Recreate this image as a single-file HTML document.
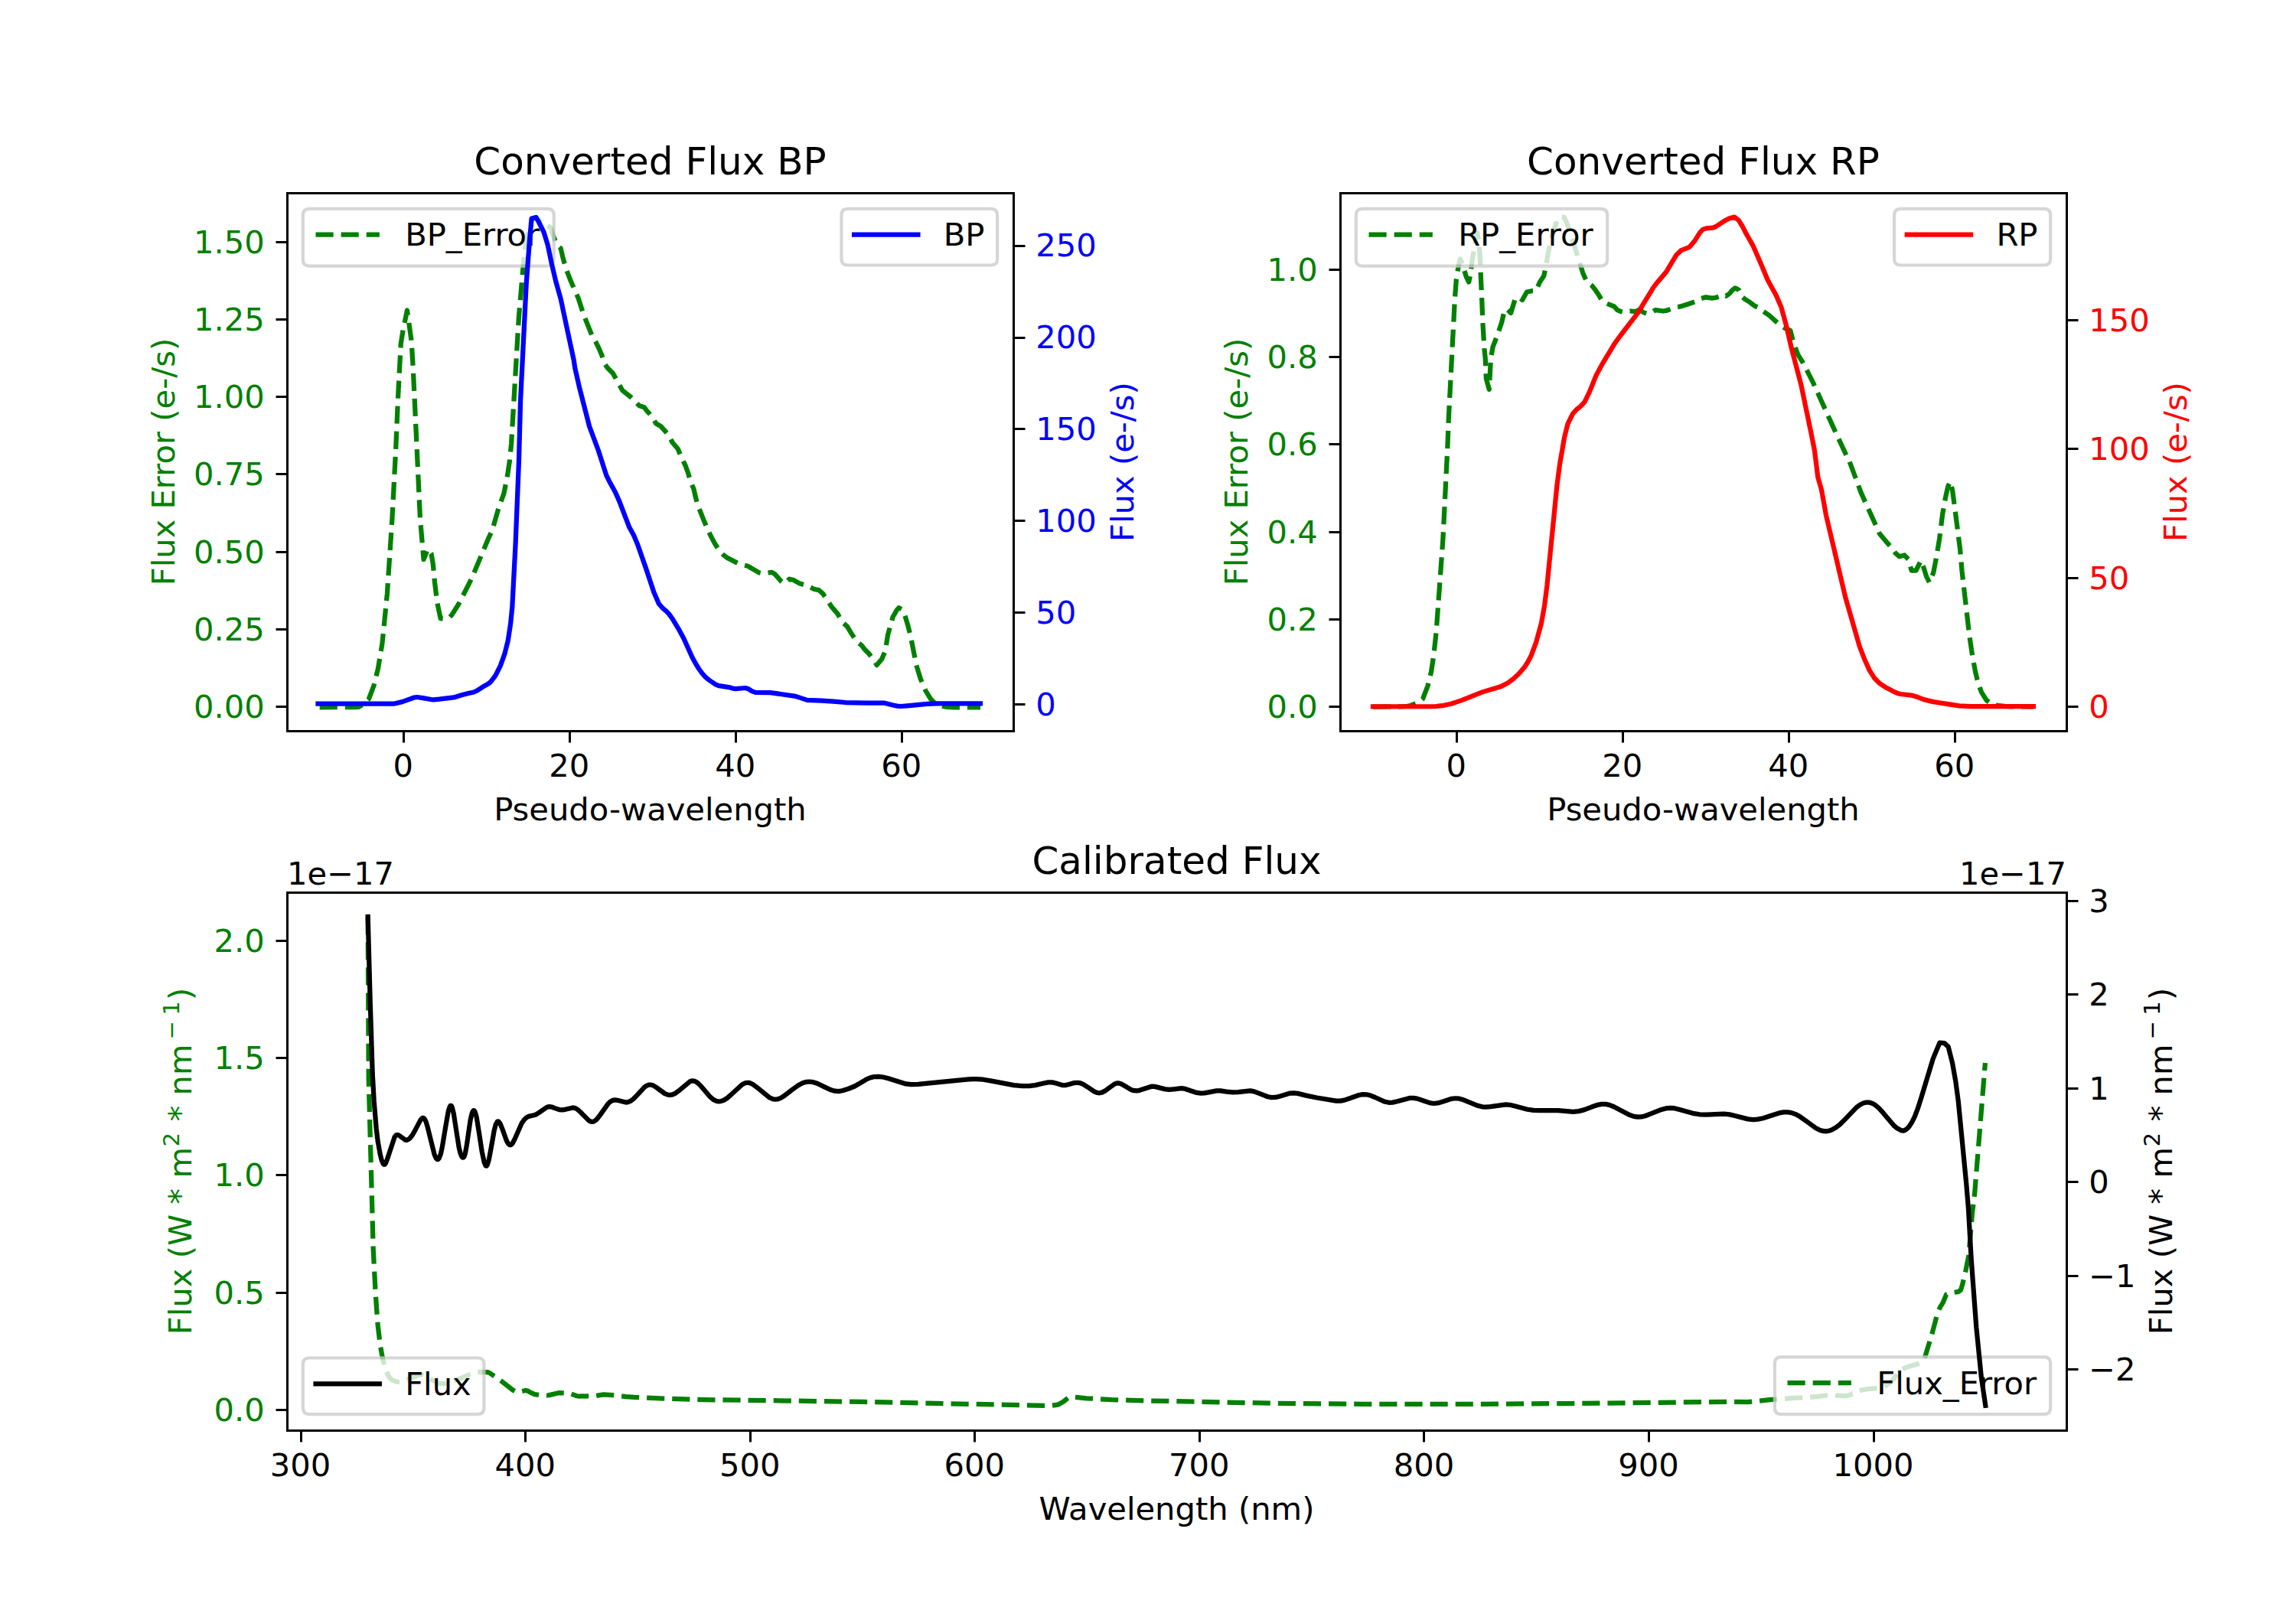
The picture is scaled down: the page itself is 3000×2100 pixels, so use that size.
<!DOCTYPE html>
<html><head><meta charset="utf-8"><title>Gaia XP spectra</title>
<style>html,body{margin:0;padding:0;background:#fff}svg{display:block}text{font-family:"DejaVu Sans","Liberation Sans",sans-serif}</style>
</head><body>
<svg width="3000" height="2100" viewBox="0 0 720 504">
 
 <defs>
  <style type="text/css">*{stroke-linejoin: round; stroke-linecap: butt}</style>
 </defs>
 <g id="figure_1">
  <g id="patch_1">
   <path d="M 0 504 
L 720 504 
L 720 0 
L 0 0 
z
" style="fill: #ffffff"/>
  </g>
  <g id="axes_1">
   <g id="patch_2">
    <path d="M 90 229.210435 
L 317.755102 229.210435 
L 317.755102 60.48 
L 90 60.48 
z
" style="fill: #ffffff"/>
   </g>
   <g id="matplotlib.axis_1">
    <g id="xtick_1">
     <g id="line2d_1">
      <defs>
       <path id="m1504cfccaf" d="M 0 0 
L 0 3.6 
" style="stroke: #000000; stroke-width: 0.72"/>
      </defs>
      <g>
       <use href="#m1504cfccaf" x="126.600000" y="229.320000" style="stroke: #000000; stroke-width: 0.72"/>
      </g>
     </g>
     <g id="text_1">
      <text style="font-size: 10px; font-family: 'DejaVu Sans', 'Liberation Sans', sans-serif; text-anchor: middle" x="126.396541" y="243.508872" transform="rotate(-0 126.396541 243.508872)">0</text>
     </g>
    </g>
    <g id="xtick_2">
     <g id="line2d_2">
      <g>
       <use href="#m1504cfccaf" x="178.680000" y="229.320000" style="stroke: #000000; stroke-width: 0.72"/>
      </g>
     </g>
     <g id="text_2">
      <text style="font-size: 10px; font-family: 'DejaVu Sans', 'Liberation Sans', sans-serif; text-anchor: middle" x="178.484615" y="243.508872" transform="rotate(-0 178.484615 243.508872)">20</text>
     </g>
    </g>
    <g id="xtick_3">
     <g id="line2d_3">
      <g>
       <use href="#m1504cfccaf" x="230.760000" y="229.320000" style="stroke: #000000; stroke-width: 0.72"/>
      </g>
     </g>
     <g id="text_3">
      <text style="font-size: 10px; font-family: 'DejaVu Sans', 'Liberation Sans', sans-serif; text-anchor: middle" x="230.572689" y="243.508872" transform="rotate(-0 230.572689 243.508872)">40</text>
     </g>
    </g>
    <g id="xtick_4">
     <g id="line2d_4">
      <g>
       <use href="#m1504cfccaf" x="282.840000" y="229.320000" style="stroke: #000000; stroke-width: 0.72"/>
      </g>
     </g>
     <g id="text_4">
      <text style="font-size: 10px; font-family: 'DejaVu Sans', 'Liberation Sans', sans-serif; text-anchor: middle" x="282.660762" y="243.508872" transform="rotate(-0 282.660762 243.508872)">60</text>
     </g>
    </g>
    <g id="text_5">
     <text style="font-size: 10px; font-family: 'DejaVu Sans', 'Liberation Sans', sans-serif; text-anchor: middle" x="203.877551" y="257.186997" transform="rotate(-0 203.877551 257.186997)">Pseudo-wavelength</text>
    </g>
   </g>
   <g id="matplotlib.axis_2">
    <g id="ytick_1">
     <g id="line2d_5">
      <defs>
       <path id="m5d545ce8f8" d="M 0 0 
L -3.6 0 
" style="stroke: #000000; stroke-width: 0.72"/>
      </defs>
      <g>
       <use href="#m5d545ce8f8" x="90.120000" y="221.640000" style="stroke: #000000; stroke-width: 0.72"/>
      </g>
     </g>
     <g id="text_6">
      <text style="font-size: 10px; font-family: 'DejaVu Sans', 'Liberation Sans', sans-serif; text-anchor: end; fill: #008000" x="83" y="225.099216" transform="rotate(-0 83 225.099216)">0.00</text>
     </g>
    </g>
    <g id="ytick_2">
     <g id="line2d_6">
      <g>
       <use href="#m5d545ce8f8" x="90.120000" y="197.400000" style="stroke: #000000; stroke-width: 0.72"/>
      </g>
     </g>
     <g id="text_7">
      <text style="font-size: 10px; font-family: 'DejaVu Sans', 'Liberation Sans', sans-serif; text-anchor: end; fill: #008000" x="83" y="200.811095" transform="rotate(-0 83 200.811095)">0.25</text>
     </g>
    </g>
    <g id="ytick_3">
     <g id="line2d_7">
      <g>
       <use href="#m5d545ce8f8" x="90.120000" y="173.160000" style="stroke: #000000; stroke-width: 0.72"/>
      </g>
     </g>
     <g id="text_8">
      <text style="font-size: 10px; font-family: 'DejaVu Sans', 'Liberation Sans', sans-serif; text-anchor: end; fill: #008000" x="83" y="176.522975" transform="rotate(-0 83 176.522975)">0.50</text>
     </g>
    </g>
    <g id="ytick_4">
     <g id="line2d_8">
      <g>
       <use href="#m5d545ce8f8" x="90.120000" y="148.680000" style="stroke: #000000; stroke-width: 0.72"/>
      </g>
     </g>
     <g id="text_9">
      <text style="font-size: 10px; font-family: 'DejaVu Sans', 'Liberation Sans', sans-serif; text-anchor: end; fill: #008000" x="83" y="152.234855" transform="rotate(-0 83 152.234855)">0.75</text>
     </g>
    </g>
    <g id="ytick_5">
     <g id="line2d_9">
      <g>
       <use href="#m5d545ce8f8" x="90.120000" y="124.440000" style="stroke: #000000; stroke-width: 0.72"/>
      </g>
     </g>
     <g id="text_10">
      <text style="font-size: 10px; font-family: 'DejaVu Sans', 'Liberation Sans', sans-serif; text-anchor: end; fill: #008000" x="83" y="127.946735" transform="rotate(-0 83 127.946735)">1.00</text>
     </g>
    </g>
    <g id="ytick_6">
     <g id="line2d_10">
      <g>
       <use href="#m5d545ce8f8" x="90.120000" y="100.200000" style="stroke: #000000; stroke-width: 0.72"/>
      </g>
     </g>
     <g id="text_11">
      <text style="font-size: 10px; font-family: 'DejaVu Sans', 'Liberation Sans', sans-serif; text-anchor: end; fill: #008000" x="83" y="103.658615" transform="rotate(-0 83 103.658615)">1.25</text>
     </g>
    </g>
    <g id="ytick_7">
     <g id="line2d_11">
      <g>
       <use href="#m5d545ce8f8" x="90.120000" y="75.960000" style="stroke: #000000; stroke-width: 0.72"/>
      </g>
     </g>
     <g id="text_12">
      <text style="font-size: 10px; font-family: 'DejaVu Sans', 'Liberation Sans', sans-serif; text-anchor: end; fill: #008000" x="83" y="79.370495" transform="rotate(-0 83 79.370495)">1.50</text>
     </g>
    </g>
    <g id="text_13">
     <text style="font-size: 10px; font-family: 'DejaVu Sans', 'Liberation Sans', sans-serif; text-anchor: middle; fill: #008000" x="54.654687" y="144.845217" transform="rotate(-90 54.654687 144.845217)">Flux Error (e-/s)</text>
    </g>
   </g>
   <g id="line2d_12">
    <path d="M 100.2477 221.832798 
L 111.467371 221.78178 
L 112.53534 221.712798 
L 113.999297 220.800793 
L 115.679248 219.168785 
L 117.239202 214.992764 
L 118.535164 209.760739 
L 119.855125 201.9127 
L 121.415079 186.240622 
L 122.975034 162.720506 
L 124.127 140.712397 
L 124.82298 124.488317 
L 125.710954 107.760234 
L 126.382934 103.584213 
L 127.678896 97.320182 
L 128.998857 106.728229 
L 129.526842 115.08027 
L 131.758776 162.720506 
L 132.862744 175.440569 
L 134.158706 172.200553 
L 135.262674 173.76056 
L 135.790658 176.880576 
L 136.318643 182.592604 
L 137.08662 188.856635 
L 138.142589 193.96866 
L 139.438551 194.160661 
L 140.758513 193.82466 
L 141.670486 192.885501 
L 143.878421 189.360638 
L 147.034329 183.158176 
L 148.078298 181.008596 
L 153.298145 168.553673 
L 154.342115 166.368524 
L 156.430053 159.072488 
L 157.990008 154.872467 
L 159.045977 149.664441 
L 159.837954 144.432415 
L 160.341939 139.200389 
L 162.69387 99.408193 
L 164.39782 79.680095 
L 165.213796 74.880071 
L 165.981773 71.280053 
L 166.79775 69.240043 
L 168.069712 68.160038 
L 170.661636 70.56005 
L 171.141622 70.224048 
L 172.701577 71.472054 
L 173.493553 73.992067 
L 174.573522 76.65608 
L 175.845484 77.904086 
L 176.469466 80.568099 
L 177.405439 84.024116 
L 178.965393 88.104137 
L 181.317324 93.432163 
L 183.045273 98.760189 
L 185.5652 105.04822 
L 186.813163 107.232231 
L 187.749136 109.104241 
L 188.685108 111.312251 
L 189.64508 114.144266 
L 190.461056 115.320271 
L 192.189006 117.07228 
L 195.164918 122.424306 
L 197.82884 124.570154 
L 200.492762 127.27233 
L 202.052716 127.752333 
L 202.844693 128.832338 
L 204.572643 130.728348 
L 205.67661 132.768358 
L 207.236565 133.704362 
L 208.868517 135.52805 
L 209.732491 136.536376 
L 210.836459 138.720387 
L 212.564408 140.760397 
L 213.668376 143.42441 
L 214.91634 145.944423 
L 215.708316 148.128434 
L 216.476294 150.792447 
L 217.580261 153.45646 
L 218.060247 155.664471 
L 218.828225 158.472485 
L 220.70017 163.152508 
L 221.804138 165.768521 
L 222.980103 168.254852 
L 224.156069 170.472544 
L 225.572027 172.680555 
L 226.747993 173.93316 
L 227.923958 174.864566 
L 231.055867 176.486327 
L 232.31583 177.048577 
L 234.499766 177.528579 
L 237.943665 179.562329 
L 239.203628 179.880591 
L 242.035545 179.472589 
L 242.971517 180.042407 
L 244.92746 182.25765 
L 245.94743 183.024606 
L 247.507385 181.608599 
L 248.755348 181.8486 
L 250.795288 183.024606 
L 253.147219 183.648609 
L 255.187159 184.752615 
L 256.771113 185.064616 
L 258.019076 186.144622 
L 260.850994 190.392643 
L 262.722939 192.576654 
L 263.970902 194.928665 
L 265.698851 196.512673 
L 267.11481 198.864685 
L 268.674764 201.216696 
L 270.258718 202.464702 
L 271.19469 203.712709 
L 272.442654 204.960715 
L 274.002608 207.000725 
L 274.96258 208.584733 
L 276.522534 206.688723 
L 277.626502 204.192711 
L 278.394479 199.176686 
L 279.978433 193.512658 
L 281.226396 191.328647 
L 281.850378 190.608644 
L 282.714353 191.040646 
L 283.722323 192.888655 
L 284.682295 196.032671 
L 285.618268 199.800689 
L 287.346217 208.584733 
L 288.666178 212.880754 
L 290.226133 216.552772 
L 291.810086 219.168785 
L 293.106048 220.485141 
L 294.40201 221.256795 
L 296.849939 221.757768 
L 299.153871 221.832798 
L 307.433628 221.832798 
L 307.433628 221.832798 
" clip-path="url(#ped18cb847b)" style="fill: none; stroke-dasharray: 5.55,2.4; stroke-dashoffset: 0; stroke: #008000; stroke-width: 1.5"/>
   </g>
   <g id="patch_3">
    <path d="M 90.120000 229.320000 
L 90.120000 60.600000 
" style="fill: none; stroke: #000000; stroke-width: 0.72; stroke-linejoin: miter; stroke-linecap: square"/>
   </g>
   <g id="patch_4">
    <path d="M 317.880000 229.320000 
L 317.880000 60.600000 
" style="fill: none; stroke: #000000; stroke-width: 0.72; stroke-linejoin: miter; stroke-linecap: square"/>
   </g>
   <g id="patch_5">
    <path d="M 90.120000 229.320000 
L 317.880000 229.320000 
" style="fill: none; stroke: #000000; stroke-width: 0.72; stroke-linejoin: miter; stroke-linecap: square"/>
   </g>
   <g id="patch_6">
    <path d="M 90.120000 60.600000 
L 317.880000 60.600000 
" style="fill: none; stroke: #000000; stroke-width: 0.72; stroke-linejoin: miter; stroke-linecap: square"/>
   </g>
   <g id="text_14">
    <text style="font-size: 12px; font-family: 'DejaVu Sans', 'Liberation Sans', sans-serif; text-anchor: middle" x="203.877551" y="54.770000" transform="rotate(-0 203.877551 54.770000)">Converted Flux BP</text>
   </g>
   <g id="legend_1">
    <g id="patch_7">
     <path d="M 97.000000 83.43625 
L 171.690938 83.43625 
Q 173.690938 83.43625 173.690938 81.43625 
L 173.690938 67.48 
Q 173.690938 65.48 171.690938 65.48 
L 97.000000 65.48 
Q 95.000000 65.48 95.000000 67.48 
L 95.000000 81.43625 
Q 95.000000 83.43625 97.000000 83.43625 
z
" style="fill: #ffffff; opacity: 0.8; stroke: #cccccc; stroke-linejoin: miter"/>
    </g>
    <g id="line2d_13">
     <path d="M 99 73.578438 
L 109 73.578438 
L 119 73.578438 
" style="fill: none; stroke-dasharray: 5.55,2.4; stroke-dashoffset: 0; stroke: #008000; stroke-width: 1.5"/>
    </g>
    <g id="text_15">
     <text style="font-size: 10px; font-family: 'DejaVu Sans', 'Liberation Sans', sans-serif; text-anchor: start" x="127" y="77.078438" transform="rotate(-0 127 77.078438)">BP_Error</text>
    </g>
   </g>
  </g>
  <g id="axes_2">
   <g id="patch_8">
    <path d="M 420.244898 229.210435 
L 648 229.210435 
L 648 60.48 
L 420.244898 60.48 
z
" style="fill: #ffffff"/>
   </g>
   <g id="matplotlib.axis_3">
    <g id="xtick_5">
     <g id="line2d_14">
      <g>
       <use href="#m1504cfccaf" x="456.840000" y="229.320000" style="stroke: #000000; stroke-width: 0.72"/>
      </g>
     </g>
     <g id="text_16">
      <text style="font-size: 10px; font-family: 'DejaVu Sans', 'Liberation Sans', sans-serif; text-anchor: middle" x="456.641439" y="243.508872" transform="rotate(-0 456.641439 243.508872)">0</text>
     </g>
    </g>
    <g id="xtick_6">
     <g id="line2d_15">
      <g>
       <use href="#m1504cfccaf" x="508.920000" y="229.320000" style="stroke: #000000; stroke-width: 0.72"/>
      </g>
     </g>
     <g id="text_17">
      <text style="font-size: 10px; font-family: 'DejaVu Sans', 'Liberation Sans', sans-serif; text-anchor: middle" x="508.729513" y="243.508872" transform="rotate(-0 508.729513 243.508872)">20</text>
     </g>
    </g>
    <g id="xtick_7">
     <g id="line2d_16">
      <g>
       <use href="#m1504cfccaf" x="561.000000" y="229.320000" style="stroke: #000000; stroke-width: 0.72"/>
      </g>
     </g>
     <g id="text_18">
      <text style="font-size: 10px; font-family: 'DejaVu Sans', 'Liberation Sans', sans-serif; text-anchor: middle" x="560.817587" y="243.508872" transform="rotate(-0 560.817587 243.508872)">40</text>
     </g>
    </g>
    <g id="xtick_8">
     <g id="line2d_17">
      <g>
       <use href="#m1504cfccaf" x="613.080000" y="229.320000" style="stroke: #000000; stroke-width: 0.72"/>
      </g>
     </g>
     <g id="text_19">
      <text style="font-size: 10px; font-family: 'DejaVu Sans', 'Liberation Sans', sans-serif; text-anchor: middle" x="612.90566" y="243.508872" transform="rotate(-0 612.90566 243.508872)">60</text>
     </g>
    </g>
    <g id="text_20">
     <text style="font-size: 10px; font-family: 'DejaVu Sans', 'Liberation Sans', sans-serif; text-anchor: middle" x="534.122449" y="257.186997" transform="rotate(-0 534.122449 257.186997)">Pseudo-wavelength</text>
    </g>
   </g>
   <g id="matplotlib.axis_4">
    <g id="ytick_8">
     <g id="line2d_18">
      <g>
       <use href="#m5d545ce8f8" x="420.360000" y="221.640000" style="stroke: #000000; stroke-width: 0.72"/>
      </g>
     </g>
     <g id="text_21">
      <text style="font-size: 10px; font-family: 'DejaVu Sans', 'Liberation Sans', sans-serif; text-anchor: end; fill: #008000" x="413.244898" y="225.099216" transform="rotate(-0 413.244898 225.099216)">0.0</text>
     </g>
    </g>
    <g id="ytick_9">
     <g id="line2d_19">
      <g>
       <use href="#m5d545ce8f8" x="420.360000" y="194.280000" style="stroke: #000000; stroke-width: 0.72"/>
      </g>
     </g>
     <g id="text_22">
      <text style="font-size: 10px; font-family: 'DejaVu Sans', 'Liberation Sans', sans-serif; text-anchor: end; fill: #008000" x="413.244898" y="197.691080" transform="rotate(-0 413.244898 197.691080)">0.2</text>
     </g>
    </g>
    <g id="ytick_10">
     <g id="line2d_20">
      <g>
       <use href="#m5d545ce8f8" x="420.360000" y="166.920000" style="stroke: #000000; stroke-width: 0.72"/>
      </g>
     </g>
     <g id="text_23">
      <text style="font-size: 10px; font-family: 'DejaVu Sans', 'Liberation Sans', sans-serif; text-anchor: end; fill: #008000" x="413.244898" y="170.282944" transform="rotate(-0 413.244898 170.282944)">0.4</text>
     </g>
    </g>
    <g id="ytick_11">
     <g id="line2d_21">
      <g>
       <use href="#m5d545ce8f8" x="420.360000" y="139.320000" style="stroke: #000000; stroke-width: 0.72"/>
      </g>
     </g>
     <g id="text_24">
      <text style="font-size: 10px; font-family: 'DejaVu Sans', 'Liberation Sans', sans-serif; text-anchor: end; fill: #008000" x="413.244898" y="142.874809" transform="rotate(-0 413.244898 142.874809)">0.6</text>
     </g>
    </g>
    <g id="ytick_12">
     <g id="line2d_22">
      <g>
       <use href="#m5d545ce8f8" x="420.360000" y="111.960000" style="stroke: #000000; stroke-width: 0.72"/>
      </g>
     </g>
     <g id="text_25">
      <text style="font-size: 10px; font-family: 'DejaVu Sans', 'Liberation Sans', sans-serif; text-anchor: end; fill: #008000" x="413.244898" y="115.466673" transform="rotate(-0 413.244898 115.466673)">0.8</text>
     </g>
    </g>
    <g id="ytick_13">
     <g id="line2d_23">
      <g>
       <use href="#m5d545ce8f8" x="420.360000" y="84.600000" style="stroke: #000000; stroke-width: 0.72"/>
      </g>
     </g>
     <g id="text_26">
      <text style="font-size: 10px; font-family: 'DejaVu Sans', 'Liberation Sans', sans-serif; text-anchor: end; fill: #008000" x="413.244898" y="88.058538" transform="rotate(-0 413.244898 88.058538)">1.0</text>
     </g>
    </g>
    <g id="text_27">
     <text style="font-size: 10px; font-family: 'DejaVu Sans', 'Liberation Sans', sans-serif; text-anchor: middle; fill: #008000" x="391.262085" y="144.845217" transform="rotate(-90 391.262085 144.845217)">Flux Error (e-/s)</text>
    </g>
   </g>
   <g id="line2d_24">
    <path d="M 430.559796 221.640797 
L 440.039518 221.57269 
L 441.119486 221.520797 
L 442.34345 221.285274 
L 444.439389 220.475464 
L 445.311363 219.951404 
L 446.183338 219.168785 
L 447.767291 214.992764 
L 448.799261 210.792744 
L 449.591238 205.584718 
L 450.383215 198.264682 
L 452.471154 169.512539 
L 453.911111 140.712397 
L 454.2951 130.776348 
L 456.215044 93.768165 
L 456.69503 87.480134 
L 457.319012 83.736115 
L 457.942993 81.216103 
L 458.878966 83.736115 
L 459.814938 86.85613 
L 460.606915 88.440138 
L 461.086901 86.232127 
L 461.542888 82.464109 
L 462.790851 74.952072 
L 463.270837 73.056062 
L 463.750823 75.576075 
L 464.062814 79.968096 
L 464.686796 93.768165 
L 464.998787 101.592203 
L 465.478772 109.440242 
L 465.790763 112.560258 
L 466.054756 118.752288 
L 466.990728 122.136305 
L 467.494713 112.560258 
L 468.142694 108.816239 
L 469.702649 104.736219 
L 470.950612 100.9682 
L 471.742589 97.512183 
L 472.534566 96.88818 
L 473.782529 98.160186 
L 475.030493 94.080166 
L 476.278456 93.120161 
L 477.382424 94.080166 
L 478.798382 91.560154 
L 480.358336 91.248152 
L 481.6063 91.248152 
L 482.878263 88.440138 
L 484.126226 86.544129 
L 484.750208 83.736115 
L 485.374189 79.968096 
L 486.310162 75.576075 
L 487.582125 71.184053 
L 488.518097 68.66404 
L 489.45407 67.896037 
L 490.390042 68.040037 
L 491.350014 69.936047 
L 492.597978 73.368064 
L 496.365867 85.608124 
L 497.613831 88.440138 
L 499.197784 89.568144 
L 500.133757 90.694593 
L 501.06973 92.088156 
L 502.485688 94.440168 
L 503.361662 95.005069 
L 505.245607 95.744122 
L 506.253578 96.168177 
L 507.18955 97.248182 
L 508.293518 97.712591 
L 509.397486 97.896185 
L 511.125435 97.560183 
L 512.99738 97.728184 
L 513.789357 97.248182 
L 514.677331 97.534406 
L 515.565305 98.065964 
L 516.453279 98.352187 
L 517.701242 98.208187 
L 519.117201 97.248182 
L 521.613128 97.560183 
L 522.789093 97.3426 
L 525.549012 96.312177 
L 526.796976 96.168177 
L 529.292903 95.376173 
L 531.644834 94.584169 
L 533.372783 93.648164 
L 534.956737 93.192162 
L 536.828682 93.504163 
L 537.92065 93.359992 
L 539.012618 93.024161 
L 539.97259 92.400158 
L 541.220553 92.85616 
L 542.324521 92.088156 
L 543.260493 90.984151 
L 544.05247 90.360148 
L 544.676452 90.600149 
L 545.300433 90.984151 
L 546.236406 93.024161 
L 547.172379 93.816165 
L 548.420342 94.584169 
L 550.316286 96.000176 
L 551.56425 96.480178 
L 552.812213 97.560183 
L 554.708158 98.83219 
L 558.164056 101.952205 
L 559.724011 102.91221 
L 560.587985 103.210229 
L 561.45196 103.680214 
L 562.075942 106.200226 
L 562.867919 108.696239 
L 563.803891 111.216251 
L 565.363846 113.712263 
L 566.983798 116.853937 
L 568.843744 120.59616 
L 574.931565 134.078217 
L 578.935448 142.683624 
L 579.979417 144.744417 
L 581.851362 149.760442 
L 583.579312 154.464465 
L 589.387142 167.328529 
L 591.895068 170.323909 
L 593.155031 171.72055 
L 594.402995 173.488868 
L 595.650958 174.552564 
L 597.234912 174.120562 
L 598.482875 175.488569 
L 599.418848 178.920586 
L 600.834806 178.920586 
L 602.39476 175.800571 
L 603.186737 177.840581 
L 604.12271 180.868734 
L 605.058682 182.688605 
L 606.306646 179.568589 
L 607.266618 174.552564 
L 608.20259 168.888536 
L 609.138563 161.376499 
L 610.074535 156.048473 
L 610.866512 152.592456 
L 611.586491 151.032448 
L 612.282471 153.840462 
L 613.842425 165.768521 
L 614.634402 172.032552 
L 615.258383 179.160587 
L 617.610315 199.560688 
L 618.546287 205.824719 
L 619.48226 210.840744 
L 620.418232 214.608763 
L 621.378204 217.104775 
L 622.938158 219.624787 
L 624.498113 220.728793 
L 626.386057 221.2203 
L 628.617992 221.480434 
L 631.193916 221.616797 
L 637.673727 221.640797 
L 637.673727 221.640797 
" clip-path="url(#p2e5e7b1a41)" style="fill: none; stroke-dasharray: 5.55,2.4; stroke-dashoffset: 0; stroke: #008000; stroke-width: 1.5"/>
   </g>
   <g id="patch_9">
    <path d="M 420.360000 229.320000 
L 420.360000 60.600000 
" style="fill: none; stroke: #000000; stroke-width: 0.72; stroke-linejoin: miter; stroke-linecap: square"/>
   </g>
   <g id="patch_10">
    <path d="M 648.120000 229.320000 
L 648.120000 60.600000 
" style="fill: none; stroke: #000000; stroke-width: 0.72; stroke-linejoin: miter; stroke-linecap: square"/>
   </g>
   <g id="patch_11">
    <path d="M 420.360000 229.320000 
L 648.120000 229.320000 
" style="fill: none; stroke: #000000; stroke-width: 0.72; stroke-linejoin: miter; stroke-linecap: square"/>
   </g>
   <g id="patch_12">
    <path d="M 420.360000 60.600000 
L 648.120000 60.600000 
" style="fill: none; stroke: #000000; stroke-width: 0.72; stroke-linejoin: miter; stroke-linecap: square"/>
   </g>
   <g id="text_28">
    <text style="font-size: 12px; font-family: 'DejaVu Sans', 'Liberation Sans', sans-serif; text-anchor: middle" x="534.122449" y="54.770000" transform="rotate(-0 534.122449 54.770000)">Converted Flux RP</text>
   </g>
   <g id="legend_2">
    <g id="patch_13">
     <path d="M 427.244898 83.43625 
L 502.023335 83.43625 
Q 504.023335 83.43625 504.023335 81.43625 
L 504.023335 67.48 
Q 504.023335 65.48 502.023335 65.48 
L 427.244898 65.48 
Q 425.244898 65.48 425.244898 67.48 
L 425.244898 81.43625 
Q 425.244898 83.43625 427.244898 83.43625 
z
" style="fill: #ffffff; opacity: 0.8; stroke: #cccccc; stroke-linejoin: miter"/>
    </g>
    <g id="line2d_25">
     <path d="M 429.244898 73.578438 
L 439.244898 73.578438 
L 449.244898 73.578438 
" style="fill: none; stroke-dasharray: 5.55,2.4; stroke-dashoffset: 0; stroke: #008000; stroke-width: 1.5"/>
    </g>
    <g id="text_29">
     <text style="font-size: 10px; font-family: 'DejaVu Sans', 'Liberation Sans', sans-serif; text-anchor: start" x="457.244898" y="77.078438" transform="rotate(-0 457.244898 77.078438)">RP_Error</text>
    </g>
   </g>
  </g>
  <g id="axes_3">
   <g id="patch_14">
    <path d="M 90 448.56 
L 648 448.56 
L 648 279.829565 
L 90 279.829565 
z
" style="fill: #ffffff"/>
   </g>
   <g id="matplotlib.axis_5">
    <g id="xtick_9">
     <g id="line2d_26">
      <g>
       <use href="#m1504cfccaf" x="94.440000" y="448.680000" style="stroke: #000000; stroke-width: 0.72"/>
      </g>
     </g>
     <g id="text_30">
      <text style="font-size: 10px; font-family: 'DejaVu Sans', 'Liberation Sans', sans-serif; text-anchor: middle" x="94.227273" y="462.858437" transform="rotate(-0 94.227273 462.858437)">300</text>
     </g>
    </g>
    <g id="xtick_10">
     <g id="line2d_27">
      <g>
       <use href="#m1504cfccaf" x="164.760000" y="448.680000" style="stroke: #000000; stroke-width: 0.72"/>
      </g>
     </g>
     <g id="text_31">
      <text style="font-size: 10px; font-family: 'DejaVu Sans', 'Liberation Sans', sans-serif; text-anchor: middle" x="164.681818" y="462.858437" transform="rotate(-0 164.681818 462.858437)">400</text>
     </g>
    </g>
    <g id="xtick_11">
     <g id="line2d_28">
      <g>
       <use href="#m1504cfccaf" x="235.320000" y="448.680000" style="stroke: #000000; stroke-width: 0.72"/>
      </g>
     </g>
     <g id="text_32">
      <text style="font-size: 10px; font-family: 'DejaVu Sans', 'Liberation Sans', sans-serif; text-anchor: middle" x="235.136364" y="462.858437" transform="rotate(-0 235.136364 462.858437)">500</text>
     </g>
    </g>
    <g id="xtick_12">
     <g id="line2d_29">
      <g>
       <use href="#m1504cfccaf" x="305.640000" y="448.680000" style="stroke: #000000; stroke-width: 0.72"/>
      </g>
     </g>
     <g id="text_33">
      <text style="font-size: 10px; font-family: 'DejaVu Sans', 'Liberation Sans', sans-serif; text-anchor: middle" x="305.590909" y="462.858437" transform="rotate(-0 305.590909 462.858437)">600</text>
     </g>
    </g>
    <g id="xtick_13">
     <g id="line2d_30">
      <g>
       <use href="#m1504cfccaf" x="376.200000" y="448.680000" style="stroke: #000000; stroke-width: 0.72"/>
      </g>
     </g>
     <g id="text_34">
      <text style="font-size: 10px; font-family: 'DejaVu Sans', 'Liberation Sans', sans-serif; text-anchor: middle" x="376.045455" y="462.858437" transform="rotate(-0 376.045455 462.858437)">700</text>
     </g>
    </g>
    <g id="xtick_14">
     <g id="line2d_31">
      <g>
       <use href="#m1504cfccaf" x="446.520000" y="448.680000" style="stroke: #000000; stroke-width: 0.72"/>
      </g>
     </g>
     <g id="text_35">
      <text style="font-size: 10px; font-family: 'DejaVu Sans', 'Liberation Sans', sans-serif; text-anchor: middle" x="446.5" y="462.858437" transform="rotate(-0 446.5 462.858437)">800</text>
     </g>
    </g>
    <g id="xtick_15">
     <g id="line2d_32">
      <g>
       <use href="#m1504cfccaf" x="517.080000" y="448.680000" style="stroke: #000000; stroke-width: 0.72"/>
      </g>
     </g>
     <g id="text_36">
      <text style="font-size: 10px; font-family: 'DejaVu Sans', 'Liberation Sans', sans-serif; text-anchor: middle" x="516.954545" y="462.858437" transform="rotate(-0 516.954545 462.858437)">900</text>
     </g>
    </g>
    <g id="xtick_16">
     <g id="line2d_33">
      <g>
       <use href="#m1504cfccaf" x="587.640000" y="448.680000" style="stroke: #000000; stroke-width: 0.72"/>
      </g>
     </g>
     <g id="text_37">
      <text style="font-size: 10px; font-family: 'DejaVu Sans', 'Liberation Sans', sans-serif; text-anchor: middle" x="587.409091" y="462.858437" transform="rotate(-0 587.409091 462.858437)">1000</text>
     </g>
    </g>
    <g id="text_38">
     <text style="font-size: 10px; font-family: 'DejaVu Sans', 'Liberation Sans', sans-serif; text-anchor: middle" x="369" y="476.536563" transform="rotate(-0 369 476.536563)">Wavelength (nm)</text>
    </g>
   </g>
   <g id="matplotlib.axis_6">
    <g id="ytick_14">
     <g id="line2d_34">
      <g>
       <use href="#m5d545ce8f8" x="90.120000" y="442.200000" style="stroke: #000000; stroke-width: 0.72"/>
      </g>
     </g>
     <g id="text_39">
      <text style="font-size: 10px; font-family: 'DejaVu Sans', 'Liberation Sans', sans-serif; text-anchor: end; fill: #008000" x="83" y="445.687187" transform="rotate(-0 83 445.687187)">0.0</text>
     </g>
    </g>
    <g id="ytick_15">
     <g id="line2d_35">
      <g>
       <use href="#m5d545ce8f8" x="90.120000" y="405.480000" style="stroke: #000000; stroke-width: 0.72"/>
      </g>
     </g>
     <g id="text_40">
      <text style="font-size: 10px; font-family: 'DejaVu Sans', 'Liberation Sans', sans-serif; text-anchor: end; fill: #008000" x="83" y="408.883005" transform="rotate(-0 83 408.883005)">0.5</text>
     </g>
    </g>
    <g id="ytick_16">
     <g id="line2d_36">
      <g>
       <use href="#m5d545ce8f8" x="90.120000" y="368.520000" style="stroke: #000000; stroke-width: 0.72"/>
      </g>
     </g>
     <g id="text_41">
      <text style="font-size: 10px; font-family: 'DejaVu Sans', 'Liberation Sans', sans-serif; text-anchor: end; fill: #008000" x="83" y="372.078823" transform="rotate(-0 83 372.078823)">1.0</text>
     </g>
    </g>
    <g id="ytick_17">
     <g id="line2d_37">
      <g>
       <use href="#m5d545ce8f8" x="90.120000" y="331.800000" style="stroke: #000000; stroke-width: 0.72"/>
      </g>
     </g>
     <g id="text_42">
      <text style="font-size: 10px; font-family: 'DejaVu Sans', 'Liberation Sans', sans-serif; text-anchor: end; fill: #008000" x="83" y="335.274641" transform="rotate(-0 83 335.274641)">1.5</text>
     </g>
    </g>
    <g id="ytick_18">
     <g id="line2d_38">
      <g>
       <use href="#m5d545ce8f8" x="90.120000" y="295.080000" style="stroke: #000000; stroke-width: 0.72"/>
      </g>
     </g>
     <g id="text_43">
      <text style="font-size: 10px; font-family: 'DejaVu Sans', 'Liberation Sans', sans-serif; text-anchor: end; fill: #008000" x="83" y="298.470459" transform="rotate(-0 83 298.470459)">2.0</text>
     </g>
    </g>
    <g id="text_44">
     
     <g style="fill: #008000" transform="translate(61.017187 418.594783) rotate(-90)">
      <text style="font-kerning: none; white-space: pre" xml:space="preserve"><tspan x="0" y="-0.976562" style="font-size: 10px; font-family: 'DejaVu Sans', 'Liberation Sans', sans-serif; fill: #008000">Flux (W * m</tspan><tspan x="58.948242" y="-4.804688" style="font-size: 7px; font-family: 'DejaVu Sans', 'Liberation Sans', sans-serif; fill: #008000">2</tspan><tspan x="63.675293" y="-0.976562" style="font-size: 10px; font-family: 'DejaVu Sans', 'Liberation Sans', sans-serif; fill: #008000"> * nm</tspan><tspan x="92.571289" y="-4.804688" style="font-size: 7px; font-family: 'DejaVu Sans', 'Liberation Sans', sans-serif; fill: #008000">−</tspan><tspan x="100.169434" y="-4.804688" style="font-size: 7px; font-family: 'DejaVu Sans', 'Liberation Sans', sans-serif; fill: #008000">1</tspan><tspan x="104.896484" y="-0.976562" style="font-size: 10px; font-family: 'DejaVu Sans', 'Liberation Sans', sans-serif; fill: #008000">)</tspan></text>
     </g>
    </g>
    <g id="text_45">
     <text style="font-size: 10px; font-family: 'DejaVu Sans', 'Liberation Sans', sans-serif; text-anchor: start" x="90" y="277.329565" transform="rotate(-0 90 277.329565)">1e−17</text>
    </g>
   </g>
   <g id="line2d_39">
    <path d="M 115.368 287.519203 
L 115.608 338.516957 
L 117.048 391.774715 
L 117.768 405.767788 
L 118.488 415.724136 
L 119.208 421.742772 
L 119.928 425.73012 
L 120.648 428.580711 
L 121.608 431.083071 
L 122.088 431.979523 
L 122.568 432.47518 
L 123.768 433.162379 
L 124.728 433.439696 
L 125.448 433.437682 
L 126.408 433.168078 
L 131.688 431.118887 
L 132.408 431.189348 
L 133.128 431.493954 
L 136.968 433.566728 
L 138.168 433.946346 
L 139.128 433.971043 
L 140.328 433.751772 
L 142.488 433.053938 
L 144.168 432.408086 
L 147.048 431.182993 
L 149.208 430.436728 
L 150.168 430.31991 
L 153.048 430.358757 
L 153.768 430.734833 
L 157.608 433.447332 
L 160.728 435.911351 
L 161.688 436.486054 
L 162.168 436.583698 
L 163.128 436.436546 
L 164.808 436.079938 
L 165.528 436.239167 
L 166.728 436.891481 
L 167.688 437.328564 
L 169.128 437.51006 
L 171.528 437.639818 
L 172.248 437.551645 
L 175.128 436.847942 
L 178.488 436.929063 
L 179.688 437.370768 
L 180.888 437.816896 
L 181.608 437.903947 
L 186.408 437.836845 
L 189.288 437.381067 
L 192.168 437.567332 
L 196.248 438.02511 
L 198.888 438.232713 
L 210.888 438.715158 
L 220.728 438.998235 
L 241.368 439.24198 
L 270.888 439.665565 
L 298.008 440.233897 
L 329.208 440.858328 
L 331.368 440.632314 
L 332.088 440.385373 
L 333.528 439.546142 
L 334.488 438.775572 
L 335.208 438.239679 
L 335.688 438.096317 
L 337.368 438.221534 
L 340.728 438.55099 
L 348.648 438.968649 
L 359.928 439.301999 
L 400.008 440.122102 
L 433.608 440.397351 
L 459.048 440.397387 
L 493.368 440.163598 
L 543.048 439.626197 
L 548.088 439.698924 
L 550.728 439.436307 
L 555.048 439.011753 
L 562.488 438.477925 
L 569.688 438.040012 
L 574.728 437.376195 
L 575.448 437.521164 
L 576.168 437.68035 
L 578.568 437.807554 
L 579.528 437.66054 
L 581.448 436.997021 
L 582.888 436.296278 
L 583.848 435.935938 
L 585.768 435.646854 
L 590.088 435.21506 
L 591.288 434.598894 
L 592.488 433.800708 
L 593.688 432.660793 
L 594.648 431.292012 
L 595.368 430.362679 
L 596.328 429.60995 
L 597.528 428.963909 
L 599.208 428.3999 
L 602.328 427.453093 
L 603.048 426.820433 
L 603.288 426.527891 
L 603.528 426.027963 
L 605.928 418.077162 
L 607.68 411.479817 
L 608.448 409.895809 
L 609.24 408.647803 
L 610.344 405.983789 
L 612.384 405.359786 
L 614.112 405.143785 
L 614.88 404.567782 
L 615.36 403.007775 
L 616.464 398.303751 
L 617.4 393.599728 
L 618.456 380.663664 
L 619.224 374.399633 
L 622.536 333.35943 
L 622.536 333.35943 
" clip-path="url(#pbcfeac04f6)" style="fill: none; stroke-dasharray: 5.55,2.4; stroke-dashoffset: 0; stroke: #008000; stroke-width: 1.5"/>
   </g>
   <g id="patch_15">
    <path d="M 90.120000 448.680000 
L 90.120000 279.960000 
" style="fill: none; stroke: #000000; stroke-width: 0.72; stroke-linejoin: miter; stroke-linecap: square"/>
   </g>
   <g id="patch_16">
    <path d="M 648.120000 448.680000 
L 648.120000 279.960000 
" style="fill: none; stroke: #000000; stroke-width: 0.72; stroke-linejoin: miter; stroke-linecap: square"/>
   </g>
   <g id="patch_17">
    <path d="M 90.120000 448.680000 
L 648.120000 448.680000 
" style="fill: none; stroke: #000000; stroke-width: 0.72; stroke-linejoin: miter; stroke-linecap: square"/>
   </g>
   <g id="patch_18">
    <path d="M 90.120000 279.960000 
L 648.120000 279.960000 
" style="fill: none; stroke: #000000; stroke-width: 0.72; stroke-linejoin: miter; stroke-linecap: square"/>
   </g>
   <g id="text_46">
    <text style="font-size: 12px; font-family: 'DejaVu Sans', 'Liberation Sans', sans-serif; text-anchor: middle" x="369" y="274.119565" transform="rotate(-0 369 274.119565)">Calibrated Flux</text>
   </g>
   <g id="legend_3">
    <g id="patch_19">
     <path d="M 558.533750 443.56 
L 641.000000 443.56 
Q 643.000000 443.56 643.000000 441.56 
L 643.000000 427.60375 
Q 643.000000 425.60375 641.000000 425.60375 
L 558.533750 425.60375 
Q 556.533750 425.60375 556.533750 427.60375 
L 556.533750 441.56 
Q 556.533750 443.56 558.533750 443.56 
z
" style="fill: #ffffff; opacity: 0.8; stroke: #cccccc; stroke-linejoin: miter"/>
    </g>
    <g id="line2d_40">
     <path d="M 560.533750 433.702188 
L 570.533750 433.702188 
L 580.533750 433.702188 
" style="fill: none; stroke-dasharray: 5.55,2.4; stroke-dashoffset: 0; stroke: #008000; stroke-width: 1.5"/>
    </g>
    <g id="text_47">
     <text style="font-size: 10px; font-family: 'DejaVu Sans', 'Liberation Sans', sans-serif; text-anchor: start" x="588.533750" y="437.202188" transform="rotate(-0 588.533750 437.202188)">Flux_Error</text>
    </g>
   </g>
  </g>
  <g id="axes_4">
   <g id="matplotlib.axis_7">
    <g id="ytick_19">
     <g id="line2d_41">
      <defs>
       <path id="m33c4ce201d" d="M 0 0 
L 3.6 0 
" style="stroke: #000000; stroke-width: 0.72"/>
      </defs>
      <g>
       <use href="#m33c4ce201d" x="317.880000" y="220.920000" style="stroke: #000000; stroke-width: 0.72"/>
      </g>
     </g>
     <g id="text_48">
      <text style="font-size: 10px; font-family: 'DejaVu Sans', 'Liberation Sans', sans-serif; text-anchor: start; fill: #0000ff" x="324.755102" y="224.456012" transform="rotate(-0 324.755102 224.456012)">0</text>
     </g>
    </g>
    <g id="ytick_20">
     <g id="line2d_42">
      <g>
       <use href="#m33c4ce201d" x="317.880000" y="192.120000" style="stroke: #000000; stroke-width: 0.72"/>
      </g>
     </g>
     <g id="text_49">
      <text style="font-size: 10px; font-family: 'DejaVu Sans', 'Liberation Sans', sans-serif; text-anchor: start; fill: #0000ff" x="324.755102" y="195.661870" transform="rotate(-0 324.755102 195.661870)">50</text>
     </g>
    </g>
    <g id="ytick_21">
     <g id="line2d_43">
      <g>
       <use href="#m33c4ce201d" x="317.880000" y="163.320000" style="stroke: #000000; stroke-width: 0.72"/>
      </g>
     </g>
     <g id="text_50">
      <text style="font-size: 10px; font-family: 'DejaVu Sans', 'Liberation Sans', sans-serif; text-anchor: start; fill: #0000ff" x="324.755102" y="166.867727" transform="rotate(-0 324.755102 166.867727)">100</text>
     </g>
    </g>
    <g id="ytick_22">
     <g id="line2d_44">
      <g>
       <use href="#m33c4ce201d" x="317.880000" y="134.520000" style="stroke: #000000; stroke-width: 0.72"/>
      </g>
     </g>
     <g id="text_51">
      <text style="font-size: 10px; font-family: 'DejaVu Sans', 'Liberation Sans', sans-serif; text-anchor: start; fill: #0000ff" x="324.755102" y="138.073585" transform="rotate(-0 324.755102 138.073585)">150</text>
     </g>
    </g>
    <g id="ytick_23">
     <g id="line2d_45">
      <g>
       <use href="#m33c4ce201d" x="317.880000" y="105.960000" style="stroke: #000000; stroke-width: 0.72"/>
      </g>
     </g>
     <g id="text_52">
      <text style="font-size: 10px; font-family: 'DejaVu Sans', 'Liberation Sans', sans-serif; text-anchor: start; fill: #0000ff" x="324.755102" y="109.279443" transform="rotate(-0 324.755102 109.279443)">200</text>
     </g>
    </g>
    <g id="ytick_24">
     <g id="line2d_46">
      <g>
       <use href="#m33c4ce201d" x="317.880000" y="77.160000" style="stroke: #000000; stroke-width: 0.72"/>
      </g>
     </g>
     <g id="text_53">
      <text style="font-size: 10px; font-family: 'DejaVu Sans', 'Liberation Sans', sans-serif; text-anchor: start; fill: #0000ff" x="324.755102" y="80.485300" transform="rotate(-0 324.755102 80.485300)">250</text>
     </g>
    </g>
    <g id="text_54">
     <text style="font-size: 10px; font-family: 'DejaVu Sans', 'Liberation Sans', sans-serif; text-anchor: middle; fill: #0000ff" x="355.44104" y="144.845217" transform="rotate(-90 355.44104 144.845217)">Flux (e-/s)</text>
    </g>
   </g>
   <g id="line2d_47">
    <path d="M 99.719715 220.728793 
L 123.687013 220.691097 
L 126.118942 220.10479 
L 129.730836 218.804509 
L 130.822804 218.640782 
L 132.566753 218.902602 
L 135.182676 219.368544 
L 136.05465 219.432786 
L 137.798599 219.279278 
L 142.318467 218.736783 
L 144.766395 217.986477 
L 146.854334 217.43739 
L 148.582283 217.080775 
L 149.454258 216.668488 
L 152.070181 215.02364 
L 152.942156 214.55316 
L 153.81413 213.936759 
L 155.398084 211.848749 
L 156.958038 208.704733 
L 158.254 205.056715 
L 159.309969 200.880695 
L 160.101946 195.648669 
L 160.62993 190.416643 
L 161.6619 170.568545 
L 162.717869 144.432415 
L 163.221854 125.544322 
L 165.045801 88.968141 
L 166.029772 75.888076 
L 166.701752 68.52004 
L 168.117711 68.150438 
L 168.933687 69.600045 
L 170.517641 72.744061 
L 171.765604 76.824081 
L 173.013567 82.77611 
L 174.261531 88.104137 
L 175.845484 93.744165 
L 178.02942 104.088216 
L 179.925365 112.872259 
L 180.261355 115.200271 
L 181.677314 121.464302 
L 184.821221 133.704362 
L 187.629139 141.2404 
L 190.149065 149.064438 
L 191.397029 151.584451 
L 192.956983 154.392465 
L 194.228946 157.224479 
L 197.348854 165.384519 
L 198.764813 167.952532 
L 199.988777 170.888636 
L 202.436705 177.864581 
L 205.052629 185.76062 
L 206.612583 189.360638 
L 207.660552 190.57211 
L 208.708521 191.462094 
L 209.756491 192.504653 
L 210.80046 193.968286 
L 212.716404 197.116806 
L 214.460353 200.352692 
L 217.052277 206.08872 
L 218.108246 208.052387 
L 219.164215 209.760739 
L 220.208184 211.204416 
L 221.252154 212.376751 
L 222.296123 213.235402 
L 224.384062 214.62597 
L 225.428032 215.088765 
L 228.915929 215.624175 
L 229.787904 215.893806 
L 230.659878 216.02477 
L 233.779787 215.760768 
L 234.827756 216.127881 
L 235.875725 216.809662 
L 236.923695 217.176775 
L 241.617957 217.223872 
L 244.757065 217.687723 
L 249.475327 218.376781 
L 253.12322 219.576787 
L 257.731085 219.745453 
L 261.388578 220.004677 
L 265.146868 220.320791 
L 271.938669 220.464792 
L 277.162516 220.451209 
L 280.306423 221.217293 
L 281.354393 221.427712 
L 282.402362 221.520797 
L 284.482301 221.367014 
L 290.748117 220.775231 
L 293.898025 220.632792 
L 307.433628 220.632792 
L 307.433628 220.632792 
" clip-path="url(#ped18cb847b)" style="fill: none; stroke: #0000ff; stroke-width: 1.5; stroke-linecap: square"/>
   </g>
   <g id="patch_20">
    <path d="M 90.120000 229.320000 
L 90.120000 60.600000 
" style="fill: none; stroke: #000000; stroke-width: 0.72; stroke-linejoin: miter; stroke-linecap: square"/>
   </g>
   <g id="patch_21">
    <path d="M 317.880000 229.320000 
L 317.880000 60.600000 
" style="fill: none; stroke: #000000; stroke-width: 0.72; stroke-linejoin: miter; stroke-linecap: square"/>
   </g>
   <g id="patch_22">
    <path d="M 90.120000 229.320000 
L 317.880000 229.320000 
" style="fill: none; stroke: #000000; stroke-width: 0.72; stroke-linejoin: miter; stroke-linecap: square"/>
   </g>
   <g id="patch_23">
    <path d="M 90.120000 60.600000 
L 317.880000 60.600000 
" style="fill: none; stroke: #000000; stroke-width: 0.72; stroke-linejoin: miter; stroke-linecap: square"/>
   </g>
   <g id="legend_4">
    <g id="patch_24">
     <path d="M 265.864477 83.158125 
L 310.755102 83.158125 
Q 312.755102 83.158125 312.755102 81.158125 
L 312.755102 67.48 
Q 312.755102 65.48 310.755102 65.48 
L 265.864477 65.48 
Q 263.864477 65.48 263.864477 67.48 
L 263.864477 81.158125 
Q 263.864477 83.158125 265.864477 83.158125 
z
" style="fill: #ffffff; opacity: 0.8; stroke: #cccccc; stroke-linejoin: miter"/>
    </g>
    <g id="line2d_48">
     <path d="M 267.864477 73.578438 
L 277.864477 73.578438 
L 287.864477 73.578438 
" style="fill: none; stroke: #0000ff; stroke-width: 1.5; stroke-linecap: square"/>
    </g>
    <g id="text_55">
     <text style="font-size: 10px; font-family: 'DejaVu Sans', 'Liberation Sans', sans-serif; text-anchor: start" x="295.864477" y="77.078438" transform="rotate(-0 295.864477 77.078438)">BP</text>
    </g>
   </g>
  </g>
  <g id="axes_5">
   <g id="matplotlib.axis_8">
    <g id="ytick_25">
     <g id="line2d_49">
      <g>
       <use href="#m33c4ce201d" x="648.120000" y="221.640000" style="stroke: #000000; stroke-width: 0.72"/>
      </g>
     </g>
     <g id="text_56">
      <text style="font-size: 10px; font-family: 'DejaVu Sans', 'Liberation Sans', sans-serif; text-anchor: start; fill: #ff0000" x="655" y="225.099216" transform="rotate(-0 655 225.099216)">0</text>
     </g>
    </g>
    <g id="ytick_26">
     <g id="line2d_50">
      <g>
       <use href="#m33c4ce201d" x="648.120000" y="181.320000" style="stroke: #000000; stroke-width: 0.72"/>
      </g>
     </g>
     <g id="text_57">
      <text style="font-size: 10px; font-family: 'DejaVu Sans', 'Liberation Sans', sans-serif; text-anchor: start; fill: #ff0000" x="655" y="184.695016" transform="rotate(-0 655 184.695016)">50</text>
     </g>
    </g>
    <g id="ytick_27">
     <g id="line2d_51">
      <g>
       <use href="#m33c4ce201d" x="648.120000" y="140.760000" style="stroke: #000000; stroke-width: 0.72"/>
      </g>
     </g>
     <g id="text_58">
      <text style="font-size: 10px; font-family: 'DejaVu Sans', 'Liberation Sans', sans-serif; text-anchor: start; fill: #ff0000" x="655" y="144.290816" transform="rotate(-0 655 144.290816)">100</text>
     </g>
    </g>
    <g id="ytick_28">
     <g id="line2d_52">
      <g>
       <use href="#m33c4ce201d" x="648.120000" y="100.440000" style="stroke: #000000; stroke-width: 0.72"/>
      </g>
     </g>
     <g id="text_59">
      <text style="font-size: 10px; font-family: 'DejaVu Sans', 'Liberation Sans', sans-serif; text-anchor: start; fill: #ff0000" x="655" y="103.886616" transform="rotate(-0 655 103.886616)">150</text>
     </g>
    </g>
    <g id="text_60">
     <text style="font-size: 10px; font-family: 'DejaVu Sans', 'Liberation Sans', sans-serif; text-anchor: middle; fill: #ff0000" x="685.685937" y="144.845217" transform="rotate(-90 685.685937 144.845217)">Flux (e-/s)</text>
    </g>
   </g>
   <g id="line2d_53">
    <path d="M 430.559796 221.592797 
L 450.239219 221.520797 
L 452.767145 221.230591 
L 455.075077 220.749 
L 458.206986 219.696788 
L 465.010786 216.990427 
L 468.406687 215.990919 
L 470.758618 215.256766 
L 472.846557 214.200761 
L 474.590505 212.893752 
L 476.334454 211.271411 
L 478.078403 209.232736 
L 479.122373 207.611999 
L 480.166342 205.584718 
L 481.726296 201.384697 
L 483.31025 195.648669 
L 484.34222 189.88864 
L 485.134196 183.624609 
L 488.254105 152.256454 
L 489.142079 145.46442 
L 490.606036 137.040379 
L 491.662005 132.864358 
L 493.221959 129.720343 
L 494.445924 128.395222 
L 495.669888 127.397445 
L 496.893852 126.072325 
L 498.453806 122.928309 
L 500.541745 117.696283 
L 502.285694 114.472729 
L 506.301576 107.784234 
L 508.381515 104.942433 
L 513.621362 98.112186 
L 518.309224 90.42594 
L 519.357194 88.968141 
L 522.501102 85.296123 
L 525.62101 80.064097 
L 527.204964 78.504089 
L 529.820887 77.472084 
L 531.380841 75.624075 
L 533.12479 72.870821 
L 533.996765 71.976057 
L 535.052734 71.616055 
L 537.140673 71.448054 
L 538.012647 71.100669 
L 540.620571 69.367313 
L 542.34852 68.47204 
L 543.932474 68.064038 
L 545.228436 69.096043 
L 546.404401 70.97639 
L 547.580367 73.272063 
L 549.668305 76.944081 
L 551.756244 81.648105 
L 554.372168 87.912136 
L 556.988091 92.616159 
L 558.572045 96.288177 
L 560.131999 102.024206 
L 561.691953 108.816239 
L 564.835861 120.840299 
L 567.979769 136.008374 
L 569.011739 141.216399 
L 570.067708 149.664441 
L 571.195675 153.600461 
L 572.659632 161.664501 
L 578.719454 187.412392 
L 583.123325 202.680704 
L 584.683279 206.760724 
L 586.243234 210.216741 
L 587.827187 212.712753 
L 589.387142 214.296761 
L 591.571078 215.712768 
L 593.779013 216.864774 
L 594.870981 217.35297 
L 595.962949 217.680778 
L 599.418848 218.067589 
L 601.402789 218.662409 
L 603.498728 219.456787 
L 606.306646 220.10479 
L 614.370409 221.3783 
L 617.850307 221.524832 
L 625.138709 221.568797 
L 637.673727 221.568797 
L 637.673727 221.568797 
" clip-path="url(#p2e5e7b1a41)" style="fill: none; stroke: #ff0000; stroke-width: 1.5; stroke-linecap: square"/>
   </g>
   <g id="patch_25">
    <path d="M 420.360000 229.320000 
L 420.360000 60.600000 
" style="fill: none; stroke: #000000; stroke-width: 0.72; stroke-linejoin: miter; stroke-linecap: square"/>
   </g>
   <g id="patch_26">
    <path d="M 648.120000 229.320000 
L 648.120000 60.600000 
" style="fill: none; stroke: #000000; stroke-width: 0.72; stroke-linejoin: miter; stroke-linecap: square"/>
   </g>
   <g id="patch_27">
    <path d="M 420.360000 229.320000 
L 648.120000 229.320000 
" style="fill: none; stroke: #000000; stroke-width: 0.72; stroke-linejoin: miter; stroke-linecap: square"/>
   </g>
   <g id="patch_28">
    <path d="M 420.360000 60.600000 
L 648.120000 60.600000 
" style="fill: none; stroke: #000000; stroke-width: 0.72; stroke-linejoin: miter; stroke-linecap: square"/>
   </g>
   <g id="legend_5">
    <g id="patch_29">
     <path d="M 596.021875 83.158125 
L 641 83.158125 
Q 643 83.158125 643 81.158125 
L 643 67.48 
Q 643 65.48 641 65.48 
L 596.021875 65.48 
Q 594.021875 65.48 594.021875 67.48 
L 594.021875 81.158125 
Q 594.021875 83.158125 596.021875 83.158125 
z
" style="fill: #ffffff; opacity: 0.8; stroke: #cccccc; stroke-linejoin: miter"/>
    </g>
    <g id="line2d_54">
     <path d="M 598.021875 73.578438 
L 608.021875 73.578438 
L 618.021875 73.578438 
" style="fill: none; stroke: #ff0000; stroke-width: 1.5; stroke-linecap: square"/>
    </g>
    <g id="text_61">
     <text style="font-size: 10px; font-family: 'DejaVu Sans', 'Liberation Sans', sans-serif; text-anchor: start" x="626.021875" y="77.078438" transform="rotate(-0 626.021875 77.078438)">RP</text>
    </g>
   </g>
  </g>
  <g id="axes_6">
   <g id="matplotlib.axis_9">
    <g id="ytick_29">
     <g id="line2d_55">
      <g>
       <use href="#m33c4ce201d" x="648.120000" y="429.480000" style="stroke: #000000; stroke-width: 0.72"/>
      </g>
     </g>
     <g id="text_62">
      <text style="font-size: 10px; font-family: 'DejaVu Sans', 'Liberation Sans', sans-serif; text-anchor: start" x="655" y="432.943124" transform="rotate(-0 655 432.943124)">−2</text>
     </g>
    </g>
    <g id="ytick_30">
     <g id="line2d_56">
      <g>
       <use href="#m33c4ce201d" x="648.120000" y="400.200000" style="stroke: #000000; stroke-width: 0.72"/>
      </g>
     </g>
     <g id="text_63">
      <text style="font-size: 10px; font-family: 'DejaVu Sans', 'Liberation Sans', sans-serif; text-anchor: start" x="655" y="403.566979" transform="rotate(-0 655 403.566979)">−1</text>
     </g>
    </g>
    <g id="ytick_31">
     <g id="line2d_57">
      <g>
       <use href="#m33c4ce201d" x="648.120000" y="370.680000" style="stroke: #000000; stroke-width: 0.72"/>
      </g>
     </g>
     <g id="text_64">
      <text style="font-size: 10px; font-family: 'DejaVu Sans', 'Liberation Sans', sans-serif; text-anchor: start" x="655" y="374.190833" transform="rotate(-0 655 374.190833)">0</text>
     </g>
    </g>
    <g id="ytick_32">
     <g id="line2d_58">
      <g>
       <use href="#m33c4ce201d" x="648.120000" y="341.400000" style="stroke: #000000; stroke-width: 0.72"/>
      </g>
     </g>
     <g id="text_65">
      <text style="font-size: 10px; font-family: 'DejaVu Sans', 'Liberation Sans', sans-serif; text-anchor: start" x="655" y="344.814688" transform="rotate(-0 655 344.814688)">1</text>
     </g>
    </g>
    <g id="ytick_33">
     <g id="line2d_59">
      <g>
       <use href="#m33c4ce201d" x="648.120000" y="311.880000" style="stroke: #000000; stroke-width: 0.72"/>
      </g>
     </g>
     <g id="text_66">
      <text style="font-size: 10px; font-family: 'DejaVu Sans', 'Liberation Sans', sans-serif; text-anchor: start" x="655" y="315.438543" transform="rotate(-0 655 315.438543)">2</text>
     </g>
    </g>
    <g id="ytick_34">
     <g id="line2d_60">
      <g>
       <use href="#m33c4ce201d" x="648.120000" y="282.600000" style="stroke: #000000; stroke-width: 0.72"/>
      </g>
     </g>
     <g id="text_67">
      <text style="font-size: 10px; font-family: 'DejaVu Sans', 'Liberation Sans', sans-serif; text-anchor: start" x="655" y="286.062397" transform="rotate(-0 655 286.062397)">3</text>
     </g>
    </g>
    <g id="text_68">
     
     <g transform="translate(682.1625 418.594783) rotate(-90)">
      <text style="font-kerning: none; white-space: pre" xml:space="preserve"><tspan x="0" y="-0.976562" style="font-size: 10px; font-family: 'DejaVu Sans', 'Liberation Sans', sans-serif">Flux (W * m</tspan><tspan x="58.948242" y="-4.804688" style="font-size: 7px; font-family: 'DejaVu Sans', 'Liberation Sans', sans-serif">2</tspan><tspan x="63.675293" y="-0.976562" style="font-size: 10px; font-family: 'DejaVu Sans', 'Liberation Sans', sans-serif"> * nm</tspan><tspan x="92.571289" y="-4.804688" style="font-size: 7px; font-family: 'DejaVu Sans', 'Liberation Sans', sans-serif">−</tspan><tspan x="100.169434" y="-4.804688" style="font-size: 7px; font-family: 'DejaVu Sans', 'Liberation Sans', sans-serif">1</tspan><tspan x="104.896484" y="-0.976562" style="font-size: 10px; font-family: 'DejaVu Sans', 'Liberation Sans', sans-serif">)</tspan></text>
     </g>
    </g>
    <g id="text_69">
     <text style="font-size: 10px; font-family: 'DejaVu Sans', 'Liberation Sans', sans-serif; text-anchor: end" x="648" y="277.329565" transform="rotate(-0 648 277.329565)">1e−17</text>
    </g>
   </g>
   <g id="line2d_61">
    <path d="M 115.368 287.519203 
L 116.088 314.071273 
L 116.808 336.654586 
L 117.288 345.370032 
L 118.008 353.954024 
L 118.488 357.961704 
L 119.208 361.9881 
L 119.688 363.883682 
L 120.168 365.00808 
L 120.408 365.23205 
L 120.648 365.205349 
L 120.888 364.928319 
L 121.368 363.801865 
L 123.768 356.527123 
L 124.248 355.99262 
L 124.728 355.914948 
L 125.208 356.142665 
L 127.128 357.527481 
L 127.608 357.543655 
L 128.088 357.347324 
L 128.568 356.952273 
L 129.288 356.033121 
L 130.248 354.340349 
L 131.928 351.151952 
L 132.408 350.672685 
L 132.648 350.602828 
L 132.888 350.67919 
L 133.128 350.917853 
L 133.608 351.886217 
L 134.088 353.499444 
L 136.248 362.145255 
L 136.728 363.211684 
L 136.968 363.521615 
L 137.208 363.648837 
L 137.448 363.569392 
L 137.688 363.274108 
L 138.168 362.03433 
L 138.648 359.938967 
L 139.608 354.099835 
L 140.568 348.607892 
L 141.048 347.055559 
L 141.288 346.745739 
L 141.528 346.806409 
L 141.768 347.244919 
L 142.248 349.135454 
L 142.968 353.793962 
L 143.928 359.884643 
L 144.408 361.845463 
L 144.888 362.862442 
L 145.128 363.030433 
L 145.368 362.966025 
L 145.608 362.620075 
L 145.848 361.935747 
L 146.328 359.37627 
L 147.528 351.156687 
L 148.008 349.147466 
L 148.248 348.570701 
L 148.488 348.298743 
L 148.728 348.344914 
L 148.968 348.714493 
L 149.448 350.402507 
L 150.168 354.883052 
L 151.128 361.152465 
L 151.848 364.544154 
L 152.328 365.63815 
L 152.568 365.672464 
L 152.808 365.355567 
L 153.288 363.837202 
L 154.008 360.033229 
L 154.968 354.56148 
L 155.448 352.704163 
L 155.928 351.816599 
L 156.168 351.704081 
L 156.408 351.788375 
L 156.888 352.454019 
L 157.608 354.267751 
L 158.808 357.647503 
L 159.288 358.570226 
L 159.768 359.060006 
L 160.008 359.122875 
L 160.248 359.054837 
L 160.728 358.562119 
L 161.448 357.185357 
L 163.608 352.258457 
L 164.328 351.217942 
L 165.048 350.52984 
L 165.768 350.131456 
L 166.728 349.901074 
L 167.928 349.611767 
L 168.888 349.052244 
L 171.528 347.231752 
L 172.248 347.074233 
L 172.968 347.164685 
L 174.168 347.606709 
L 175.368 348.010883 
L 176.328 348.107726 
L 177.288 347.954866 
L 179.688 347.381839 
L 180.408 347.555847 
L 181.128 347.975306 
L 182.088 348.840219 
L 184.728 351.522886 
L 185.448 351.822366 
L 185.928 351.815742 
L 186.408 351.63274 
L 187.128 351.050773 
L 188.088 349.840719 
L 190.728 346.099125 
L 191.448 345.465011 
L 192.168 345.096752 
L 192.888 344.976363 
L 193.848 345.112737 
L 196.248 345.727813 
L 196.968 345.641132 
L 197.688 345.342037 
L 198.648 344.63547 
L 199.848 343.391585 
L 202.008 341.043492 
L 202.728 340.523225 
L 203.448 340.241407 
L 204.168 340.225375 
L 204.888 340.461234 
L 205.848 341.066971 
L 208.488 342.994799 
L 209.448 343.359771 
L 210.168 343.428968 
L 210.888 343.305724 
L 211.848 342.856237 
L 212.808 342.139809 
L 216.408 339.12519 
L 217.128 338.964524 
L 217.848 339.081305 
L 218.568 339.468094 
L 219.528 340.322315 
L 220.968 342.013629 
L 222.648 343.963478 
L 223.608 344.787732 
L 224.568 345.292201 
L 225.288 345.443622 
L 226.008 345.401051 
L 226.968 345.064863 
L 227.928 344.461474 
L 229.128 343.439528 
L 232.728 340.134283 
L 233.688 339.659339 
L 234.408 339.542962 
L 235.128 339.647658 
L 236.088 340.088113 
L 237.288 340.966071 
L 241.368 344.26992 
L 242.328 344.689753 
L 243.048 344.815036 
L 243.768 344.758368 
L 244.728 344.41787 
L 245.928 343.678953 
L 248.328 341.802832 
L 250.248 340.423479 
L 251.688 339.675908 
L 252.888 339.321419 
L 253.848 339.242225 
L 255.048 339.399016 
L 256.248 339.790747 
L 258.168 340.70796 
L 260.568 341.838212 
L 261.768 342.171378 
L 262.968 342.249296 
L 264.168 342.062447 
L 266.088 341.457038 
L 268.008 340.680313 
L 269.688 339.703352 
L 271.848 338.433736 
L 273.048 337.956395 
L 274.248 337.690249 
L 275.448 337.628201 
L 276.888 337.795123 
L 278.568 338.240511 
L 284.088 339.942782 
L 285.768 340.083289 
L 287.928 340.036915 
L 291.528 339.699732 
L 303.768 338.478323 
L 306.168 338.40308 
L 308.328 338.573898 
L 310.968 339.038642 
L 317.928 340.355164 
L 320.568 340.599442 
L 322.728 340.580441 
L 324.648 340.349331 
L 326.808 339.840123 
L 328.728 339.437644 
L 329.928 339.44253 
L 331.128 339.718746 
L 333.288 340.356611 
L 334.248 340.341278 
L 335.448 340.014287 
L 336.888 339.606523 
L 337.848 339.541054 
L 338.808 339.706053 
L 339.768 340.105516 
L 340.968 340.867992 
L 343.128 342.347058 
L 344.088 342.722163 
L 344.808 342.785616 
L 345.528 342.639877 
L 346.488 342.158452 
L 347.928 341.086069 
L 349.368 340.072112 
L 350.088 339.774378 
L 350.808 339.710705 
L 351.528 339.898332 
L 352.488 340.434415 
L 354.648 341.742114 
L 355.608 342.057901 
L 356.568 342.113503 
L 357.528 341.899882 
L 361.128 340.724613 
L 362.088 340.774609 
L 363.528 341.129053 
L 365.448 341.614099 
L 366.648 341.707154 
L 368.088 341.583284 
L 370.488 341.33181 
L 371.688 341.508322 
L 373.128 341.993616 
L 375.288 342.701509 
L 376.488 342.869583 
L 377.688 342.821888 
L 379.368 342.501928 
L 381.528 342.105905 
L 382.728 342.096111 
L 384.648 342.372075 
L 386.568 342.565736 
L 388.248 342.483778 
L 392.088 342.100777 
L 393.288 342.334167 
L 394.728 342.863562 
L 397.608 343.987729 
L 398.808 344.195509 
L 400.008 344.138768 
L 401.448 343.782162 
L 404.568 342.862594 
L 405.768 342.786155 
L 406.968 342.932981 
L 409.608 343.58743 
L 412.968 344.28993 
L 418.968 345.283104 
L 420.408 345.262482 
L 421.608 345.031155 
L 423.288 344.4646 
L 426.168 343.437177 
L 427.368 343.233407 
L 428.568 343.275624 
L 429.768 343.567526 
L 431.208 344.156604 
L 434.328 345.547425 
L 435.528 345.792103 
L 436.728 345.76018 
L 438.168 345.434341 
L 442.008 344.379454 
L 443.208 344.356716 
L 444.408 344.555421 
L 446.088 345.105625 
L 448.488 345.939935 
L 449.688 346.081603 
L 450.888 345.944787 
L 452.328 345.519687 
L 455.208 344.600356 
L 456.408 344.45815 
L 457.608 344.562975 
L 458.808 344.898632 
L 460.728 345.702092 
L 463.368 346.770215 
L 464.808 347.12111 
L 466.008 347.211708 
L 467.448 347.085933 
L 472.248 346.400419 
L 473.688 346.563965 
L 475.608 347.05723 
L 478.968 347.941111 
L 480.888 348.221459 
L 482.808 348.285984 
L 488.568 348.280266 
L 493.368 348.687308 
L 495.048 348.514722 
L 496.728 348.091423 
L 499.128 347.17724 
L 501.048 346.51476 
L 502.248 346.290219 
L 503.448 346.292038 
L 504.648 346.537923 
L 506.088 347.096572 
L 508.248 348.241699 
L 510.888 349.616239 
L 512.328 350.120496 
L 513.528 350.316709 
L 514.728 350.265556 
L 515.928 349.978169 
L 517.848 349.221753 
L 520.728 348.069847 
L 522.408 347.618233 
L 523.848 347.472637 
L 525.048 347.57589 
L 526.728 347.995659 
L 530.808 349.160581 
L 532.968 349.507669 
L 535.128 349.614285 
L 537.768 349.48775 
L 540.648 349.368281 
L 542.328 349.52847 
L 544.248 349.973738 
L 548.088 350.964658 
L 549.768 351.129575 
L 551.208 351.04233 
L 552.888 350.691915 
L 555.288 349.907898 
L 557.928 349.062039 
L 559.368 348.806548 
L 560.568 348.786473 
L 561.768 348.980102 
L 562.968 349.401437 
L 564.408 350.183238 
L 566.328 351.545078 
L 569.448 353.805304 
L 570.648 354.415774 
L 571.608 354.707684 
L 572.568 354.789071 
L 573.528 354.654902 
L 574.488 354.324429 
L 575.688 353.662608 
L 576.888 352.733575 
L 578.328 351.312536 
L 582.168 347.303004 
L 583.368 346.430046 
L 584.328 345.961835 
L 585.288 345.729995 
L 586.248 345.757177 
L 587.208 346.061677 
L 588.168 346.641138 
L 589.128 347.467088 
L 590.568 349.061411 
L 593.928 353.049298 
L 594.888 353.833658 
L 596.088 354.504243 
L 596.808 354.631284 
L 597.288 354.507214 
L 598.008 354.016006 
L 598.728 353.226551 
L 599.448 352.152519 
L 600.408 350.22893 
L 601.368 347.743 
L 602.568 343.969121 
L 606.168 332.063424 
L 608.256 327.047399 
L 609.72 327.143399 
L 610.968 328.295405 
L 612.24 333.33543 
L 613.272 339.167459 
L 614.112 345.45549 
L 616.632 371.375618 
L 617.256 378.887655 
L 618.192 395.303737 
L 619.752 416.20784 
L 621.312 431.879917 
L 622.632 440.831962 
L 622.632 440.831962 
" clip-path="url(#pbcfeac04f6)" style="fill: none; stroke: #000000; stroke-width: 1.5; stroke-linecap: square"/>
   </g>
   <g id="patch_30">
    <path d="M 90.120000 448.680000 
L 90.120000 279.960000 
" style="fill: none; stroke: #000000; stroke-width: 0.72; stroke-linejoin: miter; stroke-linecap: square"/>
   </g>
   <g id="patch_31">
    <path d="M 648.120000 448.680000 
L 648.120000 279.960000 
" style="fill: none; stroke: #000000; stroke-width: 0.72; stroke-linejoin: miter; stroke-linecap: square"/>
   </g>
   <g id="patch_32">
    <path d="M 90.120000 448.680000 
L 648.120000 448.680000 
" style="fill: none; stroke: #000000; stroke-width: 0.72; stroke-linejoin: miter; stroke-linecap: square"/>
   </g>
   <g id="patch_33">
    <path d="M 90.120000 279.960000 
L 648.120000 279.960000 
" style="fill: none; stroke: #000000; stroke-width: 0.72; stroke-linejoin: miter; stroke-linecap: square"/>
   </g>
   <g id="legend_6">
    <g id="patch_34">
     <path d="M 97 443.56 
L 149.785937 443.56 
Q 151.785937 443.56 151.785937 441.56 
L 151.785937 427.881875 
Q 151.785937 425.881875 149.785937 425.881875 
L 97 425.881875 
Q 95 425.881875 95 427.881875 
L 95 441.56 
Q 95 443.56 97 443.56 
z
" style="fill: #ffffff; opacity: 0.8; stroke: #cccccc; stroke-linejoin: miter"/>
    </g>
    <g id="line2d_62">
     <path d="M 99 433.980313 
L 109 433.980313 
L 119 433.980313 
" style="fill: none; stroke: #000000; stroke-width: 1.5; stroke-linecap: square"/>
    </g>
    <g id="text_70">
     <text style="font-size: 10px; font-family: 'DejaVu Sans', 'Liberation Sans', sans-serif; text-anchor: start" x="127" y="437.480313" transform="rotate(-0 127 437.480313)">Flux</text>
    </g>
   </g>
  </g>
 </g>
 <defs>
  <clipPath id="ped18cb847b">
   <rect x="90" y="60.48" width="227.755102" height="168.730435"/>
  </clipPath>
  <clipPath id="p2e5e7b1a41">
   <rect x="420.244898" y="60.48" width="227.755102" height="168.730435"/>
  </clipPath>
  <clipPath id="pbcfeac04f6">
   <rect x="90" y="279.829565" width="558" height="168.730435"/>
  </clipPath>
 </defs>
</svg>

</body></html>
